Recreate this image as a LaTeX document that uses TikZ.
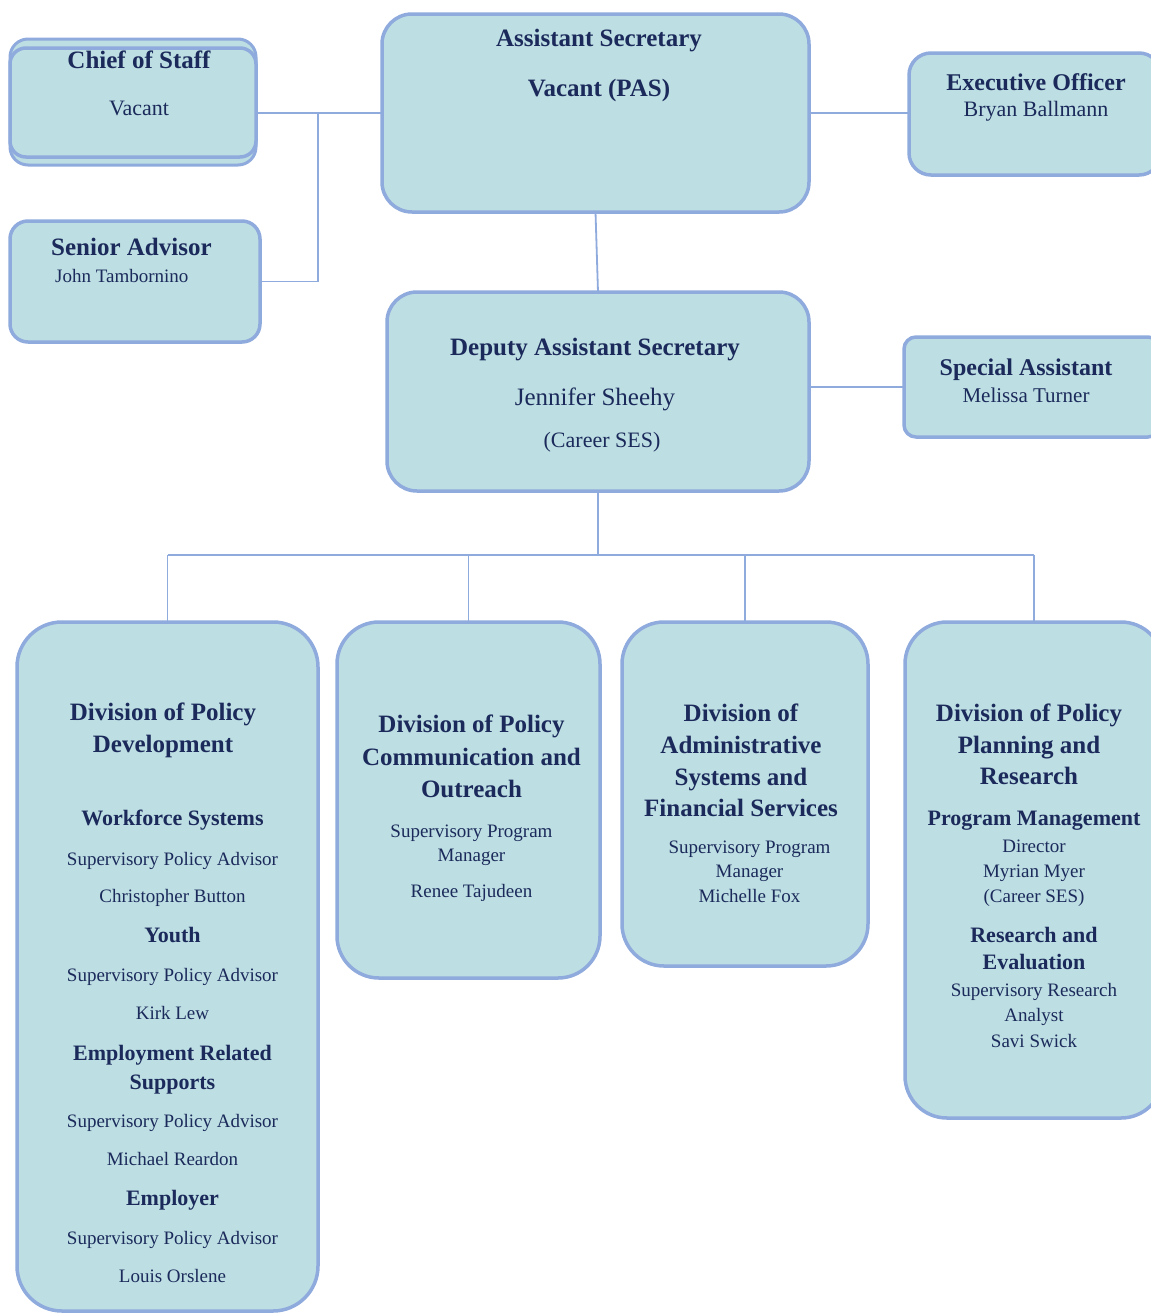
\documentclass[tikz,border=0pt]{standalone}
\usepackage{xcolor}
\usepackage{fontspec}
\setmainfont{Liberation Serif}
\usepackage{tikz}
\usetikzlibrary{positioning, backgrounds}

\definecolor{boxfill}{HTML}{BDDFE3}
\definecolor{boxline}{HTML}{8FAADC}
\definecolor{navy}{HTML}{1B2A5B}

\newcommand{\fsz}[1]{\fontsize{#1}{29}\selectfont}
\newcommand{\bighead}{\fsz{25}\bfseries}
\newcommand{\smallhead}{\fsz{22}\bfseries}

\begin{document}
\begin{tikzpicture}[
  x=1pt, y=-1pt,
  box/.style={rectangle, draw=boxline, fill=boxfill, line width=3.5pt,
             rounded corners=#1, inner sep=0pt, outer sep=0pt},
  box/.default=20pt,
  txt/.style={anchor=base, align=center, text=navy, inner sep=0pt,
             font=\fsz{19}},
  link/.style={draw=boxline, line width=1.8pt}
]

\useasboundingbox (0,0) rectangle (1151,1315);
\clip (0,0) rectangle (1151,1315);

% top row
\node[box=30pt, minimum width=427pt, minimum height=198pt] (asec) at (595.5,113) {};
\node[box=18pt, line width=3pt, minimum width=246pt, minimum height=126pt] (cosbg) at (133,102) {};
\node[box=16pt, minimum width=246pt, minimum height=109pt] (cos) at (133,102.5) {};
\node[box=22pt, minimum width=252pt, minimum height=122pt] (exo) at (1035,114) {};
\node[box=18pt, minimum width=250pt, minimum height=121pt] (sadv) at (135,281.5) {};

% deputy row
\node[box=30pt, minimum width=422pt, minimum height=199pt] (dasec) at (598,391.5) {};
\node[box=12pt, minimum width=256pt, minimum height=100pt] (spa) at (1032,387) {};

% divisions
\node[box=45pt, minimum width=301pt, minimum height=689pt] (div1) at (167.5,966.5) {};
\node[box=42pt, minimum width=263pt, minimum height=356pt,
      right=19pt of div1.north east, anchor=north west] (div2) {};
\node[box=42pt, minimum width=246pt, minimum height=344pt,
      right=22pt of div2.north east, anchor=north west] (div3) {};
\node[box=42pt, minimum width=258pt, minimum height=496pt,
      right=37pt of div3.north east, anchor=north west] (div4) {};

\coordinate (cosjn) at (318,113);
\coordinate (bus) at (597,555);

\begin{scope}[on background layer]
\draw[link] (asec.west) -- (asec.west -| cos.east);
\draw[link] (sadv.east) -| (cosjn);
\draw[link] (asec.east) -- (asec.east -| exo.west);
\draw[link] (asec.south) -- (dasec.north);
\draw[link] (spa.west) -- (spa.west -| dasec.east);
\draw[link] (dasec.south) -- (dasec.south |- bus);
\draw[link] (div1.north |- bus) -- (div4.north |- bus);
\foreach \dv in {div1,div2,div3,div4}
  \draw[link] (\dv.north |- bus) -- (\dv.north);
\end{scope}

\node[txt] (asec-t) at (599,96) {%
  {\bighead Assistant Secretary}\\[21pt]
  {\bighead Vacant (PAS)}};
\node[txt] (cos-t) at (139,115) {%
  {\bighead Chief of Staff}\\[18pt]
  {\fsz{22}Vacant}};
\node[txt] (exo-t) at (1036,116) {%
  {\fsz{24}\bfseries Executive Officer}\\[-3pt]
  {\fsz{22}Bryan Ballmann}};
\node[txt, align=left, anchor=base west] (sadv-t) at (51,282) {%
  {\bighead Senior Advisor}\\[-2pt]
  \hspace*{4pt}John Tambornino};
\node[txt] (dasec-t) at (595,447) {%
  {\bighead Deputy Assistant Secretary}\\[21pt]
  {\fsz{25}Jennifer Sheehy}\\[13pt]
  {\fsz{22}\hspace*{14pt}(Career SES)}};
\node[txt] (spa-t) at (1026,402) {%
  {\fsz{24}\bfseries Special Assistant}\\[-2pt]
  {\fsz{21}Melissa Turner}};

\node[txt] (div1-t) at (163,752) {%
  {\bighead Division of Policy}\\[3pt]
  {\bighead Development}};
\node[txt] (div1-b) at (172.5,1282) {%
  {\smallhead Workforce Systems}\\[11pt]
  Supervisory Policy Advisor\\[8pt]
  Christopher Button\\[11pt]
  {\smallhead Youth}\\[10pt]
  Supervisory Policy Advisor\\[9pt]
  Kirk Lew\\[12pt]
  {\smallhead Employment Related}\\[0pt]
  {\smallhead Supports}\\[9pt]
  Supervisory Policy Advisor\\[9pt]
  Michael Reardon\\[11pt]
  {\smallhead Employer}\\[10pt]
  Supervisory Policy Advisor\\[9pt]
  Louis Orslene};
\node[txt] (div2-t) at (471.5,897) {%
  {\bighead Division of Policy}\\[4pt]
  {\bighead Communication and}\\[3pt]
  {\bighead Outreach}\\[11pt]
  Supervisory Program\\[-5pt]
  Manager\\[7pt]
  Renee Tajudeen};
\node[txt] (div3-t) at (741,816) {%
  {\bighead Division of}\\[3pt]
  {\bighead Administrative}\\[3pt]
  {\bighead Systems and}\\[2pt]
  {\bighead Financial Services}};
\node[txt] (div3-b) at (749.5,902) {%
  Supervisory Program\\[-5pt]
  Manager\\[-4pt]
  Michelle Fox};
\node[txt] (div4-t) at (1029,784) {%
  {\bighead Division of Policy}\\[3pt]
  {\bighead Planning and}\\[2pt]
  {\bighead Research}};
\node[txt] (div4-b) at (1034,1047) {%
  {\smallhead Program Management}\\[-2pt]
  Director\\[-4pt]
  Myrian Myer\\[-4pt]
  (Career SES)\\[11pt]
  {\smallhead Research and}\\[-2pt]
  {\smallhead Evaluation}\\[-2pt]
  Supervisory Research\\[-4pt]
  Analyst\\[-3pt]
  Savi Swick};

\end{tikzpicture}
\end{document}
